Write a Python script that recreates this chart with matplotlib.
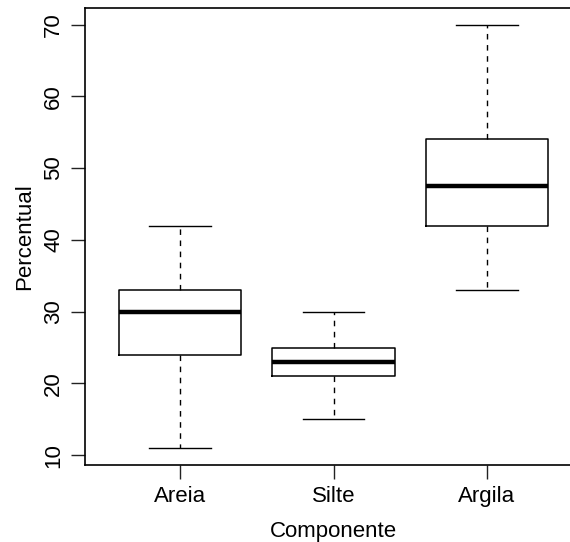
import matplotlib
matplotlib.use("Agg")
import matplotlib.pyplot as plt

plt.rcParams['font.family'] = ['Liberation Sans', 'DejaVu Sans']

# dados
componentes = ["Areia", "Silte", "Argila"]
minimos = [11, 15, 33]
q1 = [24, 21, 42]
medianas = [30, 23, 47.5]
q3 = [33, 25, 54]
maximos = [42, 30, 70]
yticks = [10, 20, 30, 40, 50, 60, 70]

stats = []
for nome, lo, a, m, b, hi in zip(componentes, minimos, q1, medianas, q3, maximos):
    stats.append({'label': nome, 'whislo': lo, 'q1': a, 'med': m,
                  'q3': b, 'whishi': hi, 'fliers': []})

fig = plt.figure(figsize=(5.7, 5.42), dpi=100)
# eixo mais largo que a figura (como no original, borda direita cortada)
ax = fig.add_axes([85/570, 77/542, 497/570, 457.4/542])

ax.bxp(stats, positions=[1, 2, 3], widths=0.8, capwidths=0.4,
       boxprops=dict(color='black', linewidth=1.1),
       medianprops=dict(color='black', linewidth=3.2, solid_capstyle='butt'),
       whiskerprops=dict(color='black', linewidth=1.0, linestyle=(0, (4, 4))),
       capprops=dict(color='black', linewidth=1.0))

ax.set_xlim(0.38, 3.62)
ax.set_ylim(8.64, 72.36)
ax.set_yticks(yticks)
ax.set_yticklabels([str(v) for v in yticks], rotation=90, va='center')
ax.set_xticks([1, 2, 3])
ax.set_xticklabels(componentes)

ax.tick_params(axis='both', labelsize=16, length=10, width=1.0, color='#222222')
ax.tick_params(axis='x', pad=5)
ax.tick_params(axis='y', pad=5)
for s in ax.spines.values():
    s.set_linewidth(1.2)

ax.set_xlabel("Componente", fontsize=16, labelpad=10)
ax.set_ylabel("Percentual", fontsize=16, labelpad=6)

fig.savefig("out.png", dpi=100)
